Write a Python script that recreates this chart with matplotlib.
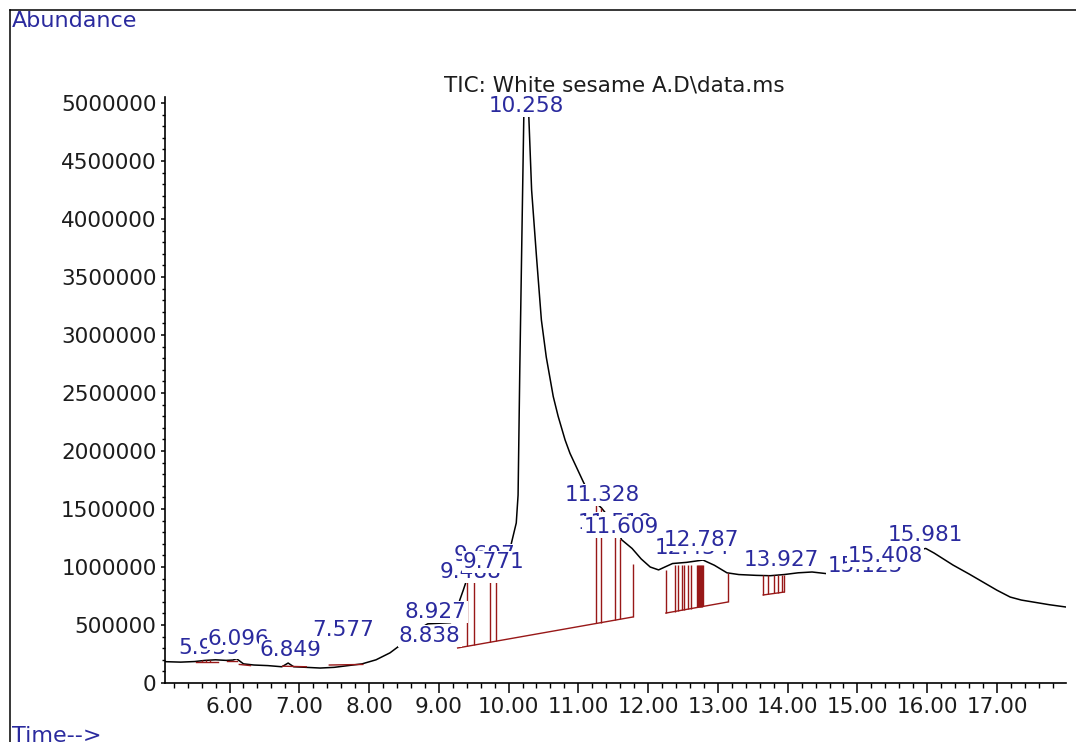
import matplotlib
matplotlib.use("Agg")
import matplotlib.pyplot as plt
from matplotlib.lines import Line2D
from matplotlib.ticker import MultipleLocator, FuncFormatter

plt.rcParams['font.family'] = ['DejaVu Sans']

# ---- Total ion chromatogram (time in min, abundance in counts) ----
tic_time = [5.075, 5.3, 5.5, 5.65, 5.8, 5.95, 6.05, 6.1, 6.2, 6.35, 6.55, 6.75, 6.84,
            6.92, 7.1, 7.3, 7.5, 7.7, 7.9, 8.1, 8.3, 8.5, 8.7, 8.84, 9.0, 9.17, 9.25,
            9.3, 9.35, 9.4, 9.5, 9.6, 9.7, 9.8, 9.9, 10.017, 10.11, 10.136, 10.161,
            10.194, 10.218, 10.258, 10.29, 10.33, 10.40, 10.47, 10.54, 10.64, 10.71,
            10.81, 10.88, 11.07, 11.2, 11.33, 11.45, 11.55, 11.62, 11.77, 11.9, 12.03,
            12.15, 12.24, 12.35, 12.55, 12.787, 12.95, 13.13, 13.3, 13.55, 13.75, 13.95,
            14.15, 14.35, 14.6, 14.9, 15.14, 15.35, 15.55, 15.75, 15.9, 15.98, 16.1,
            16.37, 16.6, 16.8, 17.0, 17.19, 17.35, 17.52, 17.75, 17.99]
tic_abund = [184e3, 180e3, 185e3, 195e3, 200e3, 195e3, 198e3, 210e3, 165e3, 155e3,
             150e3, 140e3, 172e3, 140e3, 135e3, 129e3, 135e3, 150e3, 165e3, 200e3,
             260e3, 350e3, 460e3, 510e3, 515e3, 520e3, 600e3, 715e3, 800e3, 890e3,
             970e3, 1010e3, 1030e3, 1050e3, 1090e3, 1147e3, 1380e3, 1620e3, 2720e3,
             3980e3, 4880e3, 5050e3, 4880e3, 4250e3, 3675e3, 3130e3, 2810e3, 2470e3,
             2300e3, 2095e3, 1980e3, 1735e3, 1580e3, 1510e3, 1420e3, 1330e3, 1235e3,
             1160e3, 1070e3, 1000e3, 975e3, 1000e3, 1030e3, 1040e3, 1060e3, 1015e3,
             950e3, 935e3, 928e3, 925e3, 935e3, 950e3, 957e3, 940e3, 920e3, 914e3,
             980e3, 1050e3, 1110e3, 1150e3, 1160e3, 1120e3, 1017e3, 940e3, 870e3,
             800e3, 741e3, 715e3, 698e3, 675e3, 655e3]

# ---- Integration baselines: (start time, start abundance, end time, end abundance) ----
base_t0 = [5.52, 5.96, 6.14, 6.76, 7.43, 9.27, 12.255, 13.65, 15.04]
base_a0 = [178e3, 190e3, 160e3, 145e3, 155e3, 302e3, 603e3, 759e3, 920e3]
base_t1 = [5.84, 6.10, 6.30, 7.10, 7.91, 11.78, 13.14, 13.95, 15.21]
base_a1 = [178e3, 190e3, 150e3, 140e3, 160e3, 569e3, 698e3, 784e3, 915e3]

# ---- Peak start/end drop lines ----
drop_time = [5.60, 5.66, 5.72,
             9.40, 9.50, 9.73, 9.82, 11.25, 11.32, 11.52, 11.60, 11.78,
             12.255, 12.38, 12.43, 12.48, 12.51, 12.57, 12.62, 12.70, 12.715, 12.73,
             12.745, 12.76, 12.775, 12.79, 13.14,
             13.65, 13.72, 13.81, 13.86, 13.92, 13.95]
drop_low = [178e3, 178e3, 178e3,
            316e3, 326e3, 351e3, 361e3, 513e3, 521e3, 542e3, 550e3, 569e3,
            603e3, 616e3, 622e3, 627e3, 630e3, 637e3, 642e3, 651e3, 652e3, 654e3,
            656e3, 657e3, 659e3, 660e3, 698e3,
            759e3, 765e3, 772e3, 776e3, 781e3, 784e3]
drop_high = [198e3, 198e3, 198e3,
             900e3, 965e3, 1030e3, 1045e3, 1560e3, 1510e3, 1340e3, 1240e3, 1030e3,
             975e3, 1020e3, 1020e3, 1020e3, 1020e3, 1020e3, 1020e3, 1020e3, 1020e3,
             1020e3, 1020e3, 1020e3, 1020e3, 1020e3, 945e3,
             935e3, 935e3, 935e3, 935e3, 935e3, 935e3]

# ---- Retention-time annotations (text, x position, y position), drawn in order ----
rt_text = ["5.959", "6.096", "6.849", "7.577", "8.927", "8.838", "9.488", "9.697",
           "9.771", "10.258", "11.328", "11.519", "11.609", "12.434", "12.787",
           "13.927", "15.125", "15.408", "15.981"]
rt_x = [5.713, 6.13, 6.875, 7.636, 8.955, 8.87, 9.46, 9.66, 9.79, 10.26, 11.34,
        11.53, 11.61, 12.64, 12.77, 13.905, 15.11, 15.40, 15.97]
rt_y = [302e3, 379e3, 284e3, 457e3, 612e3, 405e3, 955e3, 1105e3, 1043e3, 4974e3,
        1621e3, 1378e3, 1345e3, 1160e3, 1233e3, 1060e3, 1005e3, 1095e3, 1276e3]

x_major = [6, 7, 8, 9, 10, 11, 12, 13, 14, 15, 16, 17]

BLUE = "#2a2a9e"
RED = "#981818"
INK = "#1c1c1c"

fig = plt.figure(figsize=(10.76, 7.42), dpi=100)
fig.patch.set_facecolor("white")
ax = fig.add_axes([0.15335, 0.07951, 0.83736, 0.78976])

ax.plot(tic_time, tic_abund, color="black", lw=1.1, zorder=2)

for t0, a0, t1, a1 in zip(base_t0, base_a0, base_t1, base_a1):
    ax.plot([t0, t1], [a0, a1], color=RED, lw=1.0, zorder=3)
ax.vlines(drop_time, drop_low, drop_high, color=RED, lw=1.0, zorder=3)

for i, (s, x, y) in enumerate(zip(rt_text, rt_x, rt_y)):
    ax.text(x, y, s, color=BLUE, fontsize=15.5, ha="center", va="center",
            zorder=10 + i, clip_on=False,
            bbox=dict(boxstyle="square,pad=0.05", fc="white", ec="none"))

ax.set_xlim(5.075, 17.99)
ax.set_ylim(0, 5.052e6)

for side in ("top", "right"):
    ax.spines[side].set_visible(False)
for side in ("left", "bottom"):
    ax.spines[side].set_linewidth(1.2)
    ax.spines[side].set_color("black")

ax.set_xticks(x_major)
ax.xaxis.set_minor_locator(MultipleLocator(0.2))
ax.yaxis.set_major_locator(MultipleLocator(500000))
ax.yaxis.set_minor_locator(MultipleLocator(100000))
ax.xaxis.set_major_formatter(FuncFormatter(lambda v, p: f"{v:.2f}"))
ax.yaxis.set_major_formatter(FuncFormatter(lambda v, p: f"{int(round(v))}"))

ax.tick_params(axis="x", which="major", direction="out", length=7, width=1.1,
               pad=3, labelsize=15.5, labelcolor=INK)
ax.tick_params(axis="x", which="minor", direction="out", length=3.5, width=1.0)
ax.tick_params(axis="y", which="major", direction="out", length=3, width=1.1,
               pad=3, labelsize=15.5, labelcolor=INK)
ax.tick_params(axis="y", which="minor", direction="out", length=2, width=1.0)

fig.text(0.5706, 0.8854, r"TIC: White sesame A.D\data.ms", color=INK,
         fontsize=15.5, ha="center", va="center")
fig.text(0.0112, 0.9717, "Abundance", color=BLUE, fontsize=16, ha="left", va="center")
fig.text(0.0112, 0.008, "Time-->", color=BLUE, fontsize=16, ha="left", va="center")

# outer frame (left and top edges)
fig.add_artist(Line2D([0.0093, 0.0093], [0.0, 0.9865], transform=fig.transFigure,
                      color="black", lw=1.1))
fig.add_artist(Line2D([0.0093, 1.0], [0.9865, 0.9865], transform=fig.transFigure,
                      color="black", lw=1.1))

fig.savefig("out.png", dpi=100, facecolor="white")
